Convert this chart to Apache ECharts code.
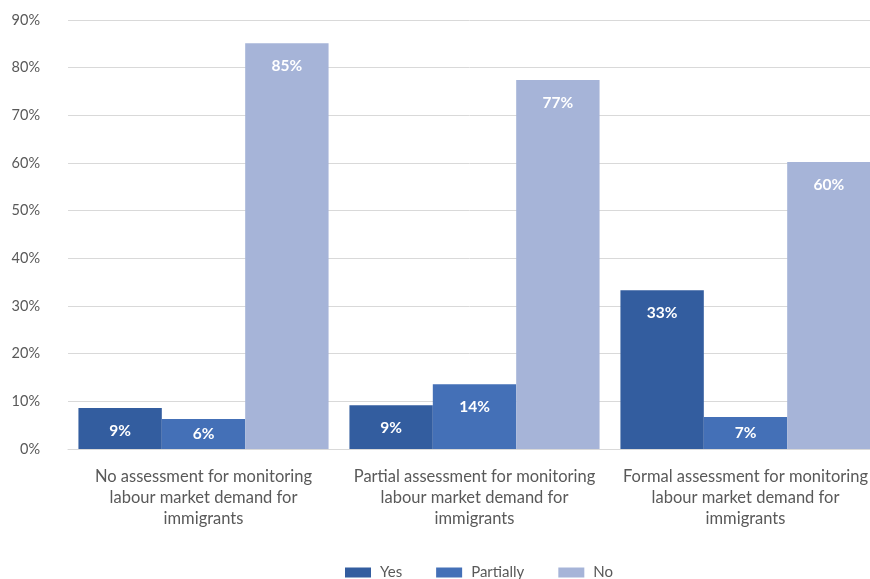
<!DOCTYPE html>
<html>
<head>
<meta charset="utf-8">
<script src="https://cdn.jsdelivr.net/npm/echarts@6/dist/echarts.min.js"></script>
<style>html,body{margin:0;padding:0;background:#fff}#c{width:870px;height:579px}</style>
</head>
<body>
<div id="c"></div>
<script>
const categories = [
  "No assessment for monitoring\nlabour market demand for\nimmigrants",
  "Partial assessment for monitoring\nlabour market demand for\nimmigrants",
  "Formal assessment for monitoring\nlabour market demand for\nimmigrants"
];
const seriesNames = ["Yes", "Partially", "No"];
const yesValues = [8.6, 9.2, 33.3];
const partiallyValues = [6.3, 13.6, 6.7];
const noValues = [85.1, 77.4, 60.2];
const colors = ["#335D9F", "#4470B7", "#A6B4D8"];

const font = "Lato, 'Open Sans', sans-serif";
function mkSeries(name, values, color) {
  return {
    name: name,
    type: "bar",
    barGap: "0%",
    barCategoryGap: "7.7%",
    itemStyle: { color: color },
    data: values.map(v => ({
      value: v,
      label: v < 8 ? { position: "inside" } : undefined
    })),
    label: {
      show: true,
      position: "insideTop",
      distance: 15,
      color: "#fff",
      fontWeight: "bold",
      fontSize: 15.5,
      fontFamily: font,
      formatter: p => Math.round(p.value) + "%"
    }
  };
}

const chart = echarts.init(document.getElementById("c"), null, { renderer: "canvas" });
chart.setOption({
  animation: false,
  grid: { left: 68, top: 20, width: 813, bottom: 130, containLabel: false, outerBoundsMode: "none" },
  legend: {
    top: 565,
    left: 345,
    padding: 0,
    itemWidth: 26,
    itemHeight: 10,
    itemGap: 34,
    icon: "rect",
    textStyle: { color: "#595959", fontSize: 15, fontFamily: font, padding: [0, 0, 0, 4] },
    data: seriesNames
  },
  xAxis: {
    type: "category",
    data: categories,
    axisLine: { show: true, lineStyle: { color: "#d9d9d9" } },
    axisTick: { show: false },
    axisLabel: { color: "#595959", fontSize: 16.5, fontFamily: font, lineHeight: 21, margin: 17, interval: 0 }
  },
  yAxis: {
    type: "value",
    min: 0,
    max: 90,
    interval: 10,
    axisLine: { show: false },
    axisTick: { show: false },
    splitLine: { lineStyle: { color: "#d9d9d9", width: 1 } },
    axisLabel: { color: "#595959", fontSize: 14.5, fontFamily: font, margin: 28, formatter: "{value}%" }
  },
  series: [
    mkSeries(seriesNames[0], yesValues, colors[0]),
    mkSeries(seriesNames[1], partiallyValues, colors[1]),
    mkSeries(seriesNames[2], noValues, colors[2])
  ]
});
</script>
</body>
</html>
